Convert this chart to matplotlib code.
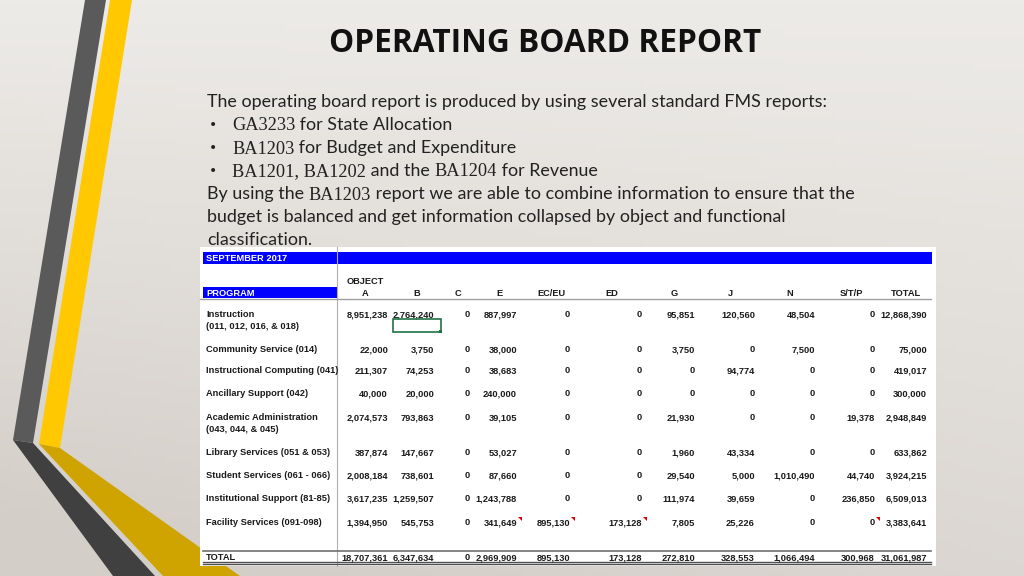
"""
Operating board report slide: FMS summary table by program and object
"""
import numpy as np
import matplotlib.pyplot as plt
from matplotlib.patches import Polygon, Rectangle

title = "OPERATING BOARD REPORT"

# body text, each line is a list of (text, is_code) runs
body_lines = [
    [("The operating board report is produced by using several standard FMS reports:", False)],
    [("GA3233", True), (" for State Allocation", False)],
    [("BA1203", True), (" for Budget and Expenditure", False)],
    [("BA1201, BA1202", True), (" and the ", False), ("BA1204", True), (" for Revenue", False)],
    [("By using the ", False), ("BA1203", True), (" report we are able to combine information to ensure that the", False)],
    [("budget is balanced and get information collapsed by object and functional", False)],
    [("classification.", False)],
]
bullet_flags = [False, True, True, True, False, False, False]

month = "SEPTEMBER 2017"
columns = ["A", "B", "C", "E", "EC/EU", "ED", "G", "J", "N", "S/T/P", "TOTAL"]

programs = [
    "Instruction\n(011, 012, 016, & 018)",
    "Community Service (014)",
    "Instructional Computing (041)",
    "Ancillary Support (042)",
    "Academic Administration\n(043, 044, & 045)",
    "Library Services (051 & 053)",
    "Student Services (061 - 066)",
    "Institutional Support (81-85)",
    "Facility Services (091-098)",
]

instruction = [8951238, 2764240, 0, 887997, 0, 0, 95851, 120560, 48504, 0, 12868390]
community = [22000, 3750, 0, 38000, 0, 0, 3750, 0, 7500, 0, 75000]
instr_computing = [211307, 74253, 0, 38683, 0, 0, 0, 94774, 0, 0, 419017]
ancillary = [40000, 20000, 0, 240000, 0, 0, 0, 0, 0, 0, 300000]
academic = [2074573, 793863, 0, 39105, 0, 0, 21930, 0, 0, 19378, 2948849]
library = [387874, 147667, 0, 53027, 0, 0, 1960, 43334, 0, 0, 633862]
student = [2008184, 738601, 0, 87660, 0, 0, 29540, 5000, 1010490, 44740, 3924215]
institutional = [3617235, 1259507, 0, 1243788, 0, 0, 111974, 39659, 0, 236850, 6509013]
facility = [1394950, 545753, 0, 341649, 895130, 173128, 7805, 25226, 0, 0, 3383641]
totals = [18707361, 6347634, 0, 2969909, 895130, 173128, 272810, 328553, 1066494, 300968, 31061987]

rows = [instruction, community, instr_computing, ancillary, academic,
        library, student, institutional, facility]

# cells carrying an excel comment marker (row, col)
comment_cells = [(8, 3), (8, 4), (8, 5), (8, 9)]

# layout in slide pixels
col_center = [365, 417, 458, 499, 551, 612, 674, 730, 790, 851, 906]
col_right = [388, 434, 470, 517, 570, 642, 695, 755, 815, 875, 927]
row_y = [314, 349, 370, 393, 417, 452, 475, 498, 522]
total_y = 557
bl = 3.4  # baseline offset from row centre

W, H = 1024, 576
fig = plt.figure(figsize=(W / 100, H / 100), dpi=100)
ax = fig.add_axes([0, 0, 1, 1])
ax.set_xlim(0, W)
ax.set_ylim(H, 0)
ax.axis('off')

# background gradient
yy, xx = np.mgrid[0:1:100j, 0:1:180j]
t = np.clip(0.7 * yy + 0.4 * (1 - xx) * yy, 0, 1)
top = np.array([237, 235, 232]) / 255.
bot = np.array([212, 206, 200]) / 255.
bg = top[None, None, :] * (1 - t[..., None]) + bot[None, None, :] * t[..., None]
ax.imshow(bg, extent=[0, W, H, 0], aspect='auto', zorder=0)

# decorative stripes
ax.add_patch(Polygon([(85, 0), (106, 0), (33, 443), (13, 440)], closed=True, fc='#5a5a5a', ec='none', zorder=1))
ax.add_patch(Polygon([(13, 440), (33, 443), (155, 576), (113, 576)], closed=True, fc='#404040', ec='none', zorder=1))
ax.add_patch(Polygon([(110, 0), (132, 0), (60, 448), (39, 444)], closed=True, fc='#ffc800', ec='none', zorder=1))
ax.add_patch(Polygon([(39, 444), (60, 448), (240, 576), (163, 576)], closed=True, fc='#cfa400', ec='none', zorder=1))

# title
ax.text(545, 43, title, ha='center', va='center', fontsize=22.8, fontweight='bold',
        family='Open Sans', color='#111111', zorder=3)

# body text with mixed fonts
renderer = fig.canvas.get_renderer()
line_y = [102, 125, 148, 171, 194, 217, 240]
for runs, bul, y in zip(body_lines, bullet_flags, line_y):
    x = 207
    if bul:
        ax.text(213, y, "\u2022", ha='center', va='center', fontsize=10, family='DejaVu Sans', color='#222222', zorder=3)
        x = 232
    for txt, code in runs:
        if code:
            tt = ax.text(x, y + 1, txt, ha='left', va='center', fontsize=13.2, family='Liberation Serif',
                         color='#222222', zorder=3)
        else:
            tt = ax.text(x, y, txt, ha='left', va='center', fontsize=12.9, family='Lato',
                         color='#222222', zorder=3)
        x += tt.get_window_extent(renderer).width

# table sheet
ax.add_patch(Rectangle((200, 247), 736, 319, fc='white', ec='none', zorder=2))
ax.add_patch(Rectangle((203, 252), 729, 12, fc='#0000ff', ec='none', zorder=3))
ax.add_patch(Rectangle((203, 287), 134, 11, fc='#0000ff', ec='none', zorder=3))
ax.plot([337, 337], [247, 566], color='#b0b0b0', lw=0.8, zorder=4)
ax.plot([200, 931], [298.5, 298.5], color='#a0a0a0', lw=1.0, zorder=4)

tf = dict(family='Liberation Sans', fontweight='bold', fontsize=6.7, color='#1a1a1a', zorder=5)
ax.text(206, 258 + bl, month, ha='left', va='baseline', **dict(tf, color='white'))
ax.text(206, 292.5 + bl, "PROGRAM", ha='left', va='baseline', **dict(tf, color='white'))
ax.text(365, 281 + bl, "OBJECT", ha='center', va='baseline', **tf)
for c, lab in zip(col_center, columns):
    ax.text(c, 293 + bl, lab, ha='center', va='baseline', **tf)

for i, (name, vals) in enumerate(zip(programs, rows)):
    lines = name.split("\n")
    for k, ln in enumerate(lines):
        ax.text(206, row_y[i] + 12 * k + bl, ln, ha='left', va='baseline', **tf)
    for j, v in enumerate(vals):
        ax.text(col_right[j], row_y[i] + bl, f"{v:,}", ha='right', va='baseline', **tf)

for i, j in comment_cells:
    xr = col_right[j] + 1
    yt = row_y[i] - 5
    ax.add_patch(Polygon([(xr, yt), (xr + 4, yt), (xr + 4, yt + 4)], closed=True, fc='#dd0000', ec='none', zorder=5))

# selected cell
ax.add_patch(Rectangle((393, 319), 48, 13, fc='none', ec='#217346', lw=1.2, zorder=5))
ax.add_patch(Rectangle((439, 330), 3, 3, fc='#217346', ec='none', zorder=6))

# total row
ax.plot([203, 931], [551, 551], color='#707070', lw=1.2, zorder=4)
ax.text(206, total_y + bl, "TOTAL", ha='left', va='baseline', **tf)
for j, v in enumerate(totals):
    ax.text(col_right[j], total_y + bl, f"{v:,}", ha='right', va='baseline', **tf)
ax.plot([203, 931], [561.5, 561.5], color='#505050', lw=1.0, zorder=4)
ax.plot([203, 931], [564, 564], color='#505050', lw=1.0, zorder=4)

fig.savefig("out.png", dpi=100)
